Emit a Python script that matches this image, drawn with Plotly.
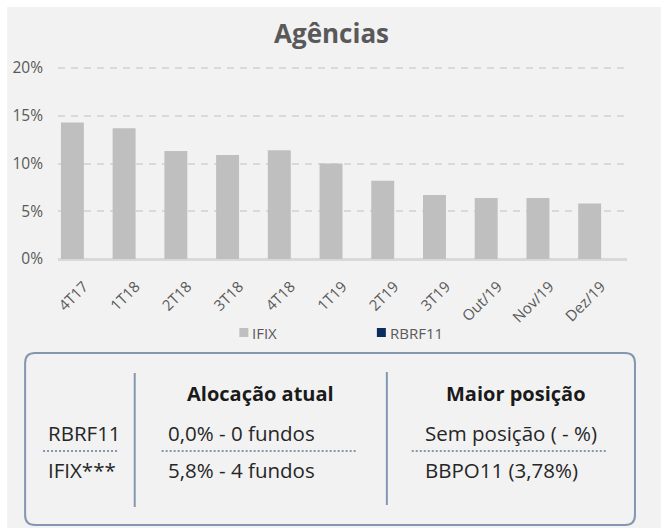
import plotly.graph_objects as go

# ---------------- data ----------------
categories = ["4T17", "1T18", "2T18", "3T18", "4T18", "1T19", "2T19", "3T19", "Out/19", "Nov/19", "Dez/19"]
ifix_values = [14.3, 13.7, 11.3, 10.9, 11.4, 10.0, 8.2, 6.7, 6.4, 6.4, 5.8]
rbrf11_values = [0, 0, 0, 0, 0, 0, 0, 0, 0, 0, 0]
series_names = ["IFIX", "RBRF11"]
y_ticks = [0, 5, 10, 15, 20]

title_text = "Agências"
table_headers = ["Alocação atual", "Maior posição"]
table_rows = ["RBRF11", "IFIX***"]
table_alloc = ["0,0% - 0 fundos", "5,8% - 4 fundos"]
table_top = ["Sem posição ( - %)", "BBPO11 (3,78%)"]

# ---------------- style / layout ----------------
W, H = 661, 528
L, R, T, B = 56, 627, 66, 259
PX_PER_UNIT = (259 - 68) / 20.0
Y_TOP = (B - T) / PX_PER_UNIT
FONT = "Open Sans"
c_ifix = "#bfbfbf"
c_rbrf = "#0b2d5c"
c_text = "#595959"
c_box = "#8497b0"

def px(x):
    return (x - L) / (R - L)

def py(y):
    return (B - y) / (B - T)

fig = go.Figure()
fig.add_trace(go.Bar(x=categories, y=ifix_values, name=series_names[0],
                     marker=dict(color=c_ifix, line=dict(width=0)), showlegend=False))
fig.add_trace(go.Bar(x=categories, y=rbrf11_values, name=series_names[1],
                     marker=dict(color=c_rbrf, line=dict(width=0)), showlegend=False))

shapes = []
annotations = []

# background panel
shapes.append(dict(type="rect", xref="paper", yref="paper", x0=px(5), x1=px(661), y0=py(7), y1=py(528),
                   fillcolor="#f2f2f2", line=dict(width=0), layer="below"))

# title
annotations.append(dict(text=f"<b>{title_text}</b>", x=px(330), y=py(33), xref="paper", yref="paper",
                        showarrow=False, xanchor="center", yanchor="middle",
                        font=dict(family=FONT, size=26, color=c_text)))

# manual legend
leg_colors = [c_ifix, c_rbrf]
leg_x = [238, 376]
for name, col, lx in zip(series_names, leg_colors, leg_x):
    shapes.append(dict(type="rect", xref="paper", yref="paper", x0=px(lx), x1=px(lx + 9),
                       y0=py(328), y1=py(337), fillcolor=col, line=dict(width=0)))
    annotations.append(dict(text=name, x=px(lx + 11), y=py(332.5), xref="paper", yref="paper",
                            showarrow=False, xanchor="left", yanchor="middle",
                            font=dict(family=FONT, size=15, color=c_text)))

# table box (rounded rectangle)
bx0, bx1, by0, by1, r = 23, 635, 353, 525, 10
def P(x, y):
    return f"{px(x)},{py(y)}"
path = (f"M{P(bx0 + r, by0)} L{P(bx1 - r, by0)} Q{P(bx1, by0)} {P(bx1, by0 + r)} "
        f"L{P(bx1, by1 - r)} Q{P(bx1, by1)} {P(bx1 - r, by1)} "
        f"L{P(bx0 + r, by1)} Q{P(bx0, by1)} {P(bx0, by1 - r)} "
        f"L{P(bx0, by0 + r)} Q{P(bx0, by0)} {P(bx0 + r, by0)} Z")
shapes.append(dict(type="path", xref="paper", yref="paper", path=path,
                   line=dict(color=c_box, width=2), fillcolor="rgba(0,0,0,0)"))

# vertical separators
for vx, vy0, vy1 in [(133, 373, 507), (386, 372, 505)]:
    shapes.append(dict(type="line", xref="paper", yref="paper", x0=px(vx), x1=px(vx),
                       y0=py(vy0), y1=py(vy1), line=dict(color=c_box, width=2)))

# dotted separators
for dx0, dx1 in [(41, 116), (160, 355), (411, 607)]:
    shapes.append(dict(type="line", xref="paper", yref="paper", x0=px(dx0), x1=px(dx1),
                       y0=py(451), y1=py(451), line=dict(color=c_box, width=2, dash="2px,2px")))

# table text
for htxt, hx in zip(table_headers, [259, 516]):
    annotations.append(dict(text=f"<b>{htxt}</b>", x=px(hx), y=py(393), xref="paper", yref="paper",
                            showarrow=False, xanchor="center", yanchor="middle",
                            font=dict(family=FONT, size=20, color="#1a1a1a")))
row_y = [433, 470]
for i in range(2):
    for txt, tx in [(table_rows[i], 44), (table_alloc[i], 164), (table_top[i], 422)]:
        annotations.append(dict(text=txt, x=px(tx), y=py(row_y[i]), xref="paper", yref="paper",
                                showarrow=False, xanchor="left", yanchor="middle",
                                font=dict(family=FONT, size=20.5, color="#262626")))

fig.update_layout(
    width=W, height=H,
    margin=dict(l=L, r=W - R, t=T, b=H - B, pad=0),
    paper_bgcolor="white", plot_bgcolor="rgba(0,0,0,0)",
    barmode="group", bargap=0.113, bargroupgap=0,
    shapes=shapes, annotations=annotations,
    font=dict(family=FONT, color=c_text),
    xaxis=dict(showgrid=False, showline=True, linecolor="#d9d9d9", linewidth=2,
               tickangle=-45, ticks="", ticklabelstandoff=11,
               tickfont=dict(family=FONT, size=15, color=c_text), fixedrange=True),
    yaxis=dict(range=[0, Y_TOP], tickvals=y_ticks, ticktext=[f"{v}%" for v in y_ticks],
               showgrid=True, gridcolor="#d9d9d9", gridwidth=2, griddash="7px,6px",
               zeroline=True, zerolinecolor="#d9d9d9", zerolinewidth=2,
               showline=False, ticks="", ticklabelstandoff=14,
               tickfont=dict(family=FONT, size=15.5, color=c_text), fixedrange=True),
    showlegend=False,
)

fig.write_html("out.html", config={"displayModeBar": False},
               post_script="document.body.style.margin='0';")
